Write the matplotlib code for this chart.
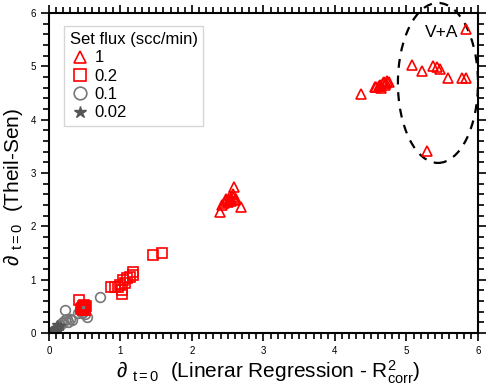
import matplotlib.pyplot as plt
from matplotlib.patches import Ellipse
from matplotlib.ticker import MultipleLocator

plt.rcParams['font.family'] = ['Liberation Sans', 'DejaVu Sans']
plt.rcParams['mathtext.fontset'] = 'custom'
plt.rcParams['mathtext.rm'] = 'Liberation Sans'
plt.rcParams['mathtext.it'] = 'Liberation Sans'

# 1 scc/min
tri_x = [2.39, 2.42, 2.45, 2.48, 2.50, 2.52, 2.54, 2.55, 2.57, 2.58, 2.60, 2.62, 2.59, 2.69, 2.47, 2.53,
         4.36, 4.56, 4.58, 4.61, 4.63, 4.65, 4.67, 4.69, 4.71, 4.73, 4.75, 4.64, 4.70,
         5.08, 5.21, 5.37, 5.43, 5.47, 5.58, 5.77, 5.83, 5.83, 5.29]
tri_y = [2.27, 2.40, 2.44, 2.47, 2.45, 2.50, 2.52, 2.48, 2.55, 2.60, 2.50, 2.52, 2.74, 2.36, 2.52, 2.57,
         4.49, 4.62, 4.61, 4.64, 4.66, 4.63, 4.68, 4.70, 4.69, 4.72, 4.71, 4.60, 4.66,
         5.03, 4.92, 5.00, 4.99, 4.95, 4.78, 4.78, 4.79, 5.71, 3.41]

# 0.2 scc/min
sq_x = [0.42, 0.45, 0.47, 0.48, 0.50, 0.52, 0.46, 0.49, 0.51,
        0.87, 0.92, 0.97, 0.99, 1.02, 1.02, 1.04, 1.06, 1.09, 1.13, 1.18, 1.18, 1.46, 1.58]
sq_y = [0.62, 0.45, 0.50, 0.43, 0.48, 0.50, 0.47, 0.52, 0.44,
        0.86, 0.86, 0.87, 0.90, 0.74, 0.81, 0.99, 0.93, 1.03, 1.06, 1.15, 1.09, 1.46, 1.51]

# 0.1 scc/min
circ_x = [0.71, 0.22, 0.32, 0.25, 0.43, 0.53, 0.46, 0.27, 0.20, 0.48, 0.50, 0.40, 0.30, 0.23, 0.18, 0.15, 0.45]
circ_y = [0.68, 0.43, 0.24, 0.27, 0.43, 0.31, 0.37, 0.21, 0.21, 0.40, 0.35, 0.38, 0.26, 0.25, 0.18, 0.15, 0.44]

# 0.02 scc/min
star_x = [0.05, 0.07, 0.08, 0.10, 0.12, 0.13, 0.15, 0.09, 0.11, 0.06]
star_y = [0.03, 0.05, 0.08, 0.10, 0.12, 0.09, 0.13, 0.06, 0.15, 0.04]

fig = plt.figure(figsize=(4.91, 3.90), dpi=100)
ax = fig.add_axes([0.0998, 0.146, 0.8737, 0.8205])

ax.plot(circ_x, circ_y, 'o', ms=7, mfc='none', mec='#777777', mew=1.2, label='0.1')
ax.plot(star_x, star_y, '*', ms=7, color='#555555', label='0.02')
ax.plot(sq_x, sq_y, 's', ms=6.5, mfc='none', mec='red', mew=1.2, label='0.2')
ax.plot(tri_x, tri_y, '^', ms=7, mfc='none', mec='red', mew=1.2, label='1')

ell = Ellipse((5.44, 4.69), 1.12, 3.0, fill=False, ls=(0, (4, 3.5)), lw=1.6,
              ec='black', clip_on=False)
ax.add_patch(ell)
ax.text(5.49, 5.63, 'V+A', fontsize=12.5, ha='center', va='center')

ax.set_xlim(0, 6)
ax.set_ylim(0, 6)
ax.xaxis.set_major_locator(MultipleLocator(1))
ax.xaxis.set_minor_locator(MultipleLocator(0.1))
ax.yaxis.set_major_locator(MultipleLocator(1))
ax.yaxis.set_minor_locator(MultipleLocator(0.2))
ax.tick_params(which='both', direction='out', top=True, right=True, labelsize=7, width=1.2)
ax.tick_params(which='major', length=6)
ax.tick_params(which='minor', length=4)
for s in ax.spines.values():
    s.set_linewidth(1.5)

ax.set_xlabel(r'∂ $_{\mathregular{t=0}}$  (Linerar Regression - R$^{\mathregular{2}}_{\mathregular{corr}}$)',
              fontsize=15)
ax.set_ylabel(r'∂ $_{\mathregular{t=0}}$  (Theil-Sen)', fontsize=15)
ax.xaxis.set_label_coords(0.51, -0.08)
ax.yaxis.set_label_coords(-0.055, 0.455)

h, l = ax.get_legend_handles_labels()
order = [3, 2, 0, 1]
leg = ax.legend([h[i] for i in order], [l[i] for i in order], title='Set flux (scc/min)',
                loc='upper left', bbox_to_anchor=(0.015, 0.985), fontsize=12, title_fontsize=12,
                markerscale=1.3, fancybox=False, edgecolor='#cccccc', handletextpad=0.3,
                handlelength=1.2, labelspacing=0.2, borderpad=0.35)
leg._legend_box.align = 'left'

fig.savefig('out.png', dpi=100)
